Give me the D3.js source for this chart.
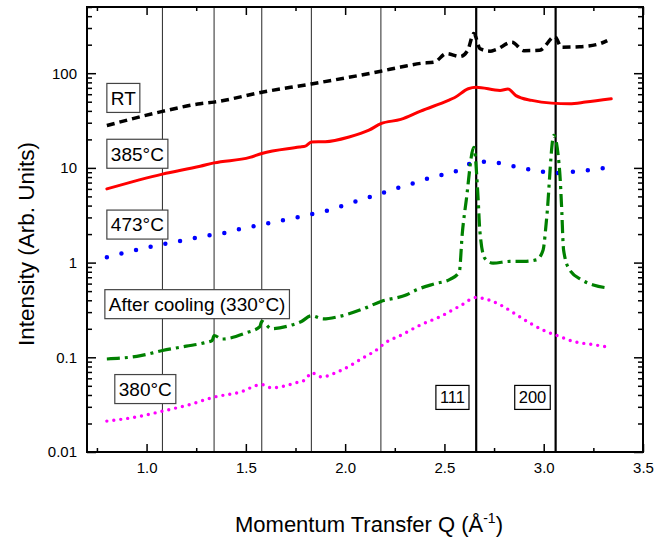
<!DOCTYPE html>
<html>
<head>
<meta charset="utf-8">
<script src="https://cdn.jsdelivr.net/npm/d3@7/dist/d3.min.js"></script>
<style>
  html, body { margin: 0; padding: 0; background: #fff; }
  svg { display: block; font-family: "Liberation Sans", Arial, sans-serif; }
</style>
</head>
<body>
<svg id="chart" width="668" height="537"></svg>
<script>
// Canvas and plot area
const CANVAS_WIDTH = 668;
const CANVAS_HEIGHT = 537;
const MARGIN = { left: 87, right: 25, top: 7, bottom: 85 };

// Q values (1/Angstrom) and intensities, one pair per curve
const rtQ = [0.80, 1.08, 1.27, 1.34, 1.58, 1.83, 2.18, 2.28, 2.38, 2.45, 2.51, 2.58, 2.617, 2.648, 2.68, 2.73, 2.76, 2.84, 2.90, 2.98, 3.056, 3.09, 3.18, 3.28, 3.32];
const rtI = [28, 39.5, 47.6, 49.5, 63, 77, 105, 116, 127, 131, 161, 150, 174, 262, 181, 171, 178, 212, 173, 175, 243, 188, 190, 204, 221];

const c385Q = [0.80, 1.08, 1.27, 1.34, 1.52, 1.58, 1.77, 1.80, 1.83, 1.90, 2.02, 2.12, 2.18, 2.28, 2.38, 2.52, 2.55, 2.62, 2.66, 2.78, 2.82, 2.86, 2.94, 3.04, 3.13, 3.21, 3.34];
const c385I = [6.0, 8.6, 10.4, 11.3, 12.9, 14.2, 16.6, 17.0, 18.8, 18.9, 21.2, 25, 29.3, 32.5, 39.8, 51.6, 55, 68.5, 71, 65.8, 68, 58, 51.6, 48.3, 47.7, 49.5, 53.7];

const c473Q = [0.80, 1.02, 1.18, 1.33, 1.41, 1.48, 1.56, 1.63, 1.71, 1.78, 1.86, 1.94, 2.01, 2.09, 2.17, 2.24, 2.32, 2.39, 2.47, 2.55, 2.62, 2.70, 2.77, 2.85, 2.93, 3.00, 3.07, 3.15, 3.23, 3.31];
const c473I = [1.14, 1.47, 1.71, 1.96, 2.09, 2.29, 2.46, 2.66, 2.86, 3.08, 3.36, 3.67, 4.15, 4.68, 5.28, 5.93, 6.63, 7.43, 8.26, 9.09, 10.9, 11.6, 11.3, 10.4, 9.6, 9.1, 8.85, 9.1, 9.46, 10.0];

const coolQ = [0.80, 0.97, 1.08, 1.20, 1.29, 1.33, 1.34, 1.38, 1.50, 1.57, 1.58, 1.63, 1.72, 1.78, 1.83, 1.89, 1.97, 2.09, 2.18, 2.31, 2.36, 2.45, 2.53, 2.575, 2.59, 2.61, 2.648, 2.67, 2.678, 2.703, 2.745, 2.83, 2.90, 2.964, 2.997, 3.014, 3.051, 3.081, 3.09, 3.10, 3.13, 3.19, 3.25, 3.33];
const coolI = [0.096, 0.104, 0.118, 0.131, 0.142, 0.15, 0.17, 0.156, 0.181, 0.21, 0.239, 0.20, 0.216, 0.239, 0.275, 0.254, 0.27, 0.324, 0.389, 0.457, 0.516, 0.597, 0.668, 0.80, 2.04, 4.57, 16.5, 4.57, 2.21, 1.11, 0.986, 1.03, 1.03, 1.07, 1.36, 2.82, 22, 8.8, 3.9, 1.36, 0.84, 0.66, 0.58, 0.537];

const c380Q = [0.80, 0.97, 1.08, 1.22, 1.34, 1.47, 1.58, 1.63, 1.75, 1.80, 1.83, 1.88, 1.97, 2.09, 2.17, 2.19, 2.29, 2.38, 2.48, 2.58, 2.66, 2.72, 2.78, 2.85, 2.93, 3.01, 3.07, 3.15, 3.25, 3.34];
const c380I = [0.0212, 0.0239, 0.027, 0.0318, 0.038, 0.0428, 0.0516, 0.0476, 0.0537, 0.058, 0.0685, 0.0622, 0.0713, 0.0986, 0.125, 0.136, 0.175, 0.22, 0.27, 0.35, 0.428, 0.405, 0.359, 0.293, 0.23, 0.188, 0.169, 0.147, 0.136, 0.127];

// Reference lines (thin) and the 111 / 200 reflections (thick)
const thinLinesQ = [1.08, 1.34, 1.58, 1.83, 2.18];
const peakLinesQ = [2.66, 3.06];

// Ticks
const xMajorTicks = [1.0, 1.5, 2.0, 2.5, 3.0, 3.5];
const xMinorTicks = [0.75, 1.25, 1.75, 2.25, 2.75, 3.25];
const yMajorTicks = [0.01, 0.1, 1, 10, 100];

// Curve labels: text, left Q of the box, intensity at the box centre
const labelTexts = ["RT", "385\u00B0C", "473\u00B0C", "After cooling (330\u00B0C)", "380\u00B0C", "111", "200"];
const labelQ = [0.80, 0.80, 0.80, 0.79, 0.84, 2.457, 2.854];
const labelI = [54.8, 14.1, 2.52, 0.364, 0.0462, 0.0377, 0.0377];

const series = [
  { q: rtQ, v: rtI, color: "#000000", width: 3.5, dash: "8,5", cap: "butt" },
  { q: c385Q, v: c385I, color: "#ff0000", width: 3, dash: null, cap: "round" },
  { q: c473Q, v: c473I, color: "#0000ff", width: 4.5, dash: "0,15", cap: "round" },
  { q: coolQ, v: coolI, color: "#008000", width: 3.2, dash: "13,5,3,5", cap: "butt" },
  { q: c380Q, v: c380I, color: "#ff00ff", width: 3.4, dash: "0,7", cap: "round" }
];

const svg = d3.select("#chart");
const plotW = CANVAS_WIDTH - MARGIN.left - MARGIN.right;
const plotH = CANVAS_HEIGHT - MARGIN.top - MARGIN.bottom;

const xScale = d3.scaleLinear().domain([0.7, 3.5]).range([MARGIN.left, MARGIN.left + plotW]);
const yScale = d3.scaleLog().domain([0.01, 500]).range([MARGIN.top + plotH, MARGIN.top]);

// minor log ticks 2..9 in each decade
const yMinorTicks = [];
[0.01, 0.1, 1, 10, 100].forEach((d) => {
  for (let k = 2; k <= 9; k++) {
    const v = d * k;
    if (v <= 500) yMinorTicks.push(v);
  }
});

// vertical reference lines
svg.append("g")
  .selectAll("line")
  .data(thinLinesQ)
  .enter()
  .append("line")
  .attr("x1", (d) => xScale(d))
  .attr("x2", (d) => xScale(d))
  .attr("y1", yScale.range()[0])
  .attr("y2", yScale.range()[1])
  .attr("stroke", "#3a3a3a")
  .attr("stroke-width", 1.1);

svg.append("g")
  .selectAll("line")
  .data(peakLinesQ)
  .enter()
  .append("line")
  .attr("x1", (d) => xScale(d))
  .attr("x2", (d) => xScale(d))
  .attr("y1", yScale.range()[0])
  .attr("y2", yScale.range()[1])
  .attr("stroke", "#000")
  .attr("stroke-width", 2.2);

// curves
const line = d3.line()
  .x((d) => xScale(d[0]))
  .y((d) => yScale(d[1]))
  .curve(d3.curveMonotoneX);

series.forEach((s) => {
  svg.append("path")
    .datum(s.q.map((q, i) => [q, s.v[i]]))
    .attr("d", line)
    .attr("fill", "none")
    .attr("stroke", s.color)
    .attr("stroke-width", s.width)
    .attr("stroke-linecap", s.cap)
    .attr("stroke-linejoin", "round")
    .attr("stroke-dasharray", s.dash);
});

// axes: ticks point inward on all four sides
const bottom = MARGIN.top + plotH;
const right = MARGIN.left + plotW;

const addAxis = (axis, transform, showLabels) => {
  const g = svg.append("g").attr("transform", transform).call(axis);
  g.select(".domain").remove();
  g.selectAll("line").attr("stroke", "#000").attr("stroke-width", 1.5);
  g.selectAll("text")
    .style("font-size", "15px")
    .style("font-family", "'Liberation Sans', Arial, sans-serif")
    .attr("fill", "#000");
  if (!showLabels) g.selectAll("text").remove();
  return g;
};

addAxis(d3.axisBottom(xScale).tickValues(xMajorTicks).tickSizeInner(-8).tickSizeOuter(0).tickPadding(10).tickFormat(d3.format(".1f")), `translate(0,${bottom})`, true);
addAxis(d3.axisBottom(xScale).tickValues(xMinorTicks).tickSizeInner(-4).tickSizeOuter(0), `translate(0,${bottom})`, false);
addAxis(d3.axisTop(xScale).tickValues(xMajorTicks).tickSizeInner(-8).tickSizeOuter(0), `translate(0,${MARGIN.top})`, false);
addAxis(d3.axisTop(xScale).tickValues(xMinorTicks).tickSizeInner(-4).tickSizeOuter(0), `translate(0,${MARGIN.top})`, false);

addAxis(d3.axisLeft(yScale).tickValues(yMajorTicks).tickSizeInner(-9).tickSizeOuter(0).tickPadding(10).tickFormat((d) => String(d)), `translate(${MARGIN.left},0)`, true);
addAxis(d3.axisLeft(yScale).tickValues(yMinorTicks).tickSizeInner(-5).tickSizeOuter(0), `translate(${MARGIN.left},0)`, false);
addAxis(d3.axisRight(yScale).tickValues(yMajorTicks).tickSizeInner(-9).tickSizeOuter(0), `translate(${right},0)`, false);
addAxis(d3.axisRight(yScale).tickValues(yMinorTicks).tickSizeInner(-5).tickSizeOuter(0), `translate(${right},0)`, false);

// frame
svg.append("rect")
  .attr("x", MARGIN.left)
  .attr("y", MARGIN.top)
  .attr("width", plotW)
  .attr("height", plotH)
  .attr("fill", "none")
  .attr("stroke", "#000")
  .attr("stroke-width", 2);

// labels in boxes
labelTexts.forEach((t, i) => {
  const small = i >= 5;
  const fs = small ? 16.5 : 19;
  const padX = 4;
  const boxH = small ? 24 : 29;
  const x0 = xScale(labelQ[i]);
  const yc = yScale(labelI[i]);
  const g = svg.append("g");
  const rect = g.append("rect");
  const text = g.append("text")
    .attr("x", x0 + padX)
    .attr("y", yc)
    .attr("dy", "0.36em")
    .style("font-size", fs + "px")
    .text(t);
  const w = text.node().getComputedTextLength();
  rect.attr("x", x0)
    .attr("y", yc - boxH / 2)
    .attr("width", w + padX * 2)
    .attr("height", boxH)
    .attr("fill", "#fff")
    .attr("stroke", small ? "#000" : "#444")
    .attr("stroke-width", 1.2);
});

// axis titles
svg.append("text")
  .attr("transform", "translate(34,244) rotate(-90)")
  .attr("text-anchor", "middle")
  .style("font-size", "22.5px")
  .text("Intensity (Arb. Units)");

const xTitle = svg.append("text")
  .attr("x", 235)
  .attr("y", 532)
  .style("font-size", "22px");
xTitle.append("tspan").text("Momentum Transfer Q (\u00C5");
xTitle.append("tspan").attr("dy", -9).style("font-size", "14px").text("-1");
xTitle.append("tspan").attr("dy", 9).text(")");
</script>
</body>
</html>
